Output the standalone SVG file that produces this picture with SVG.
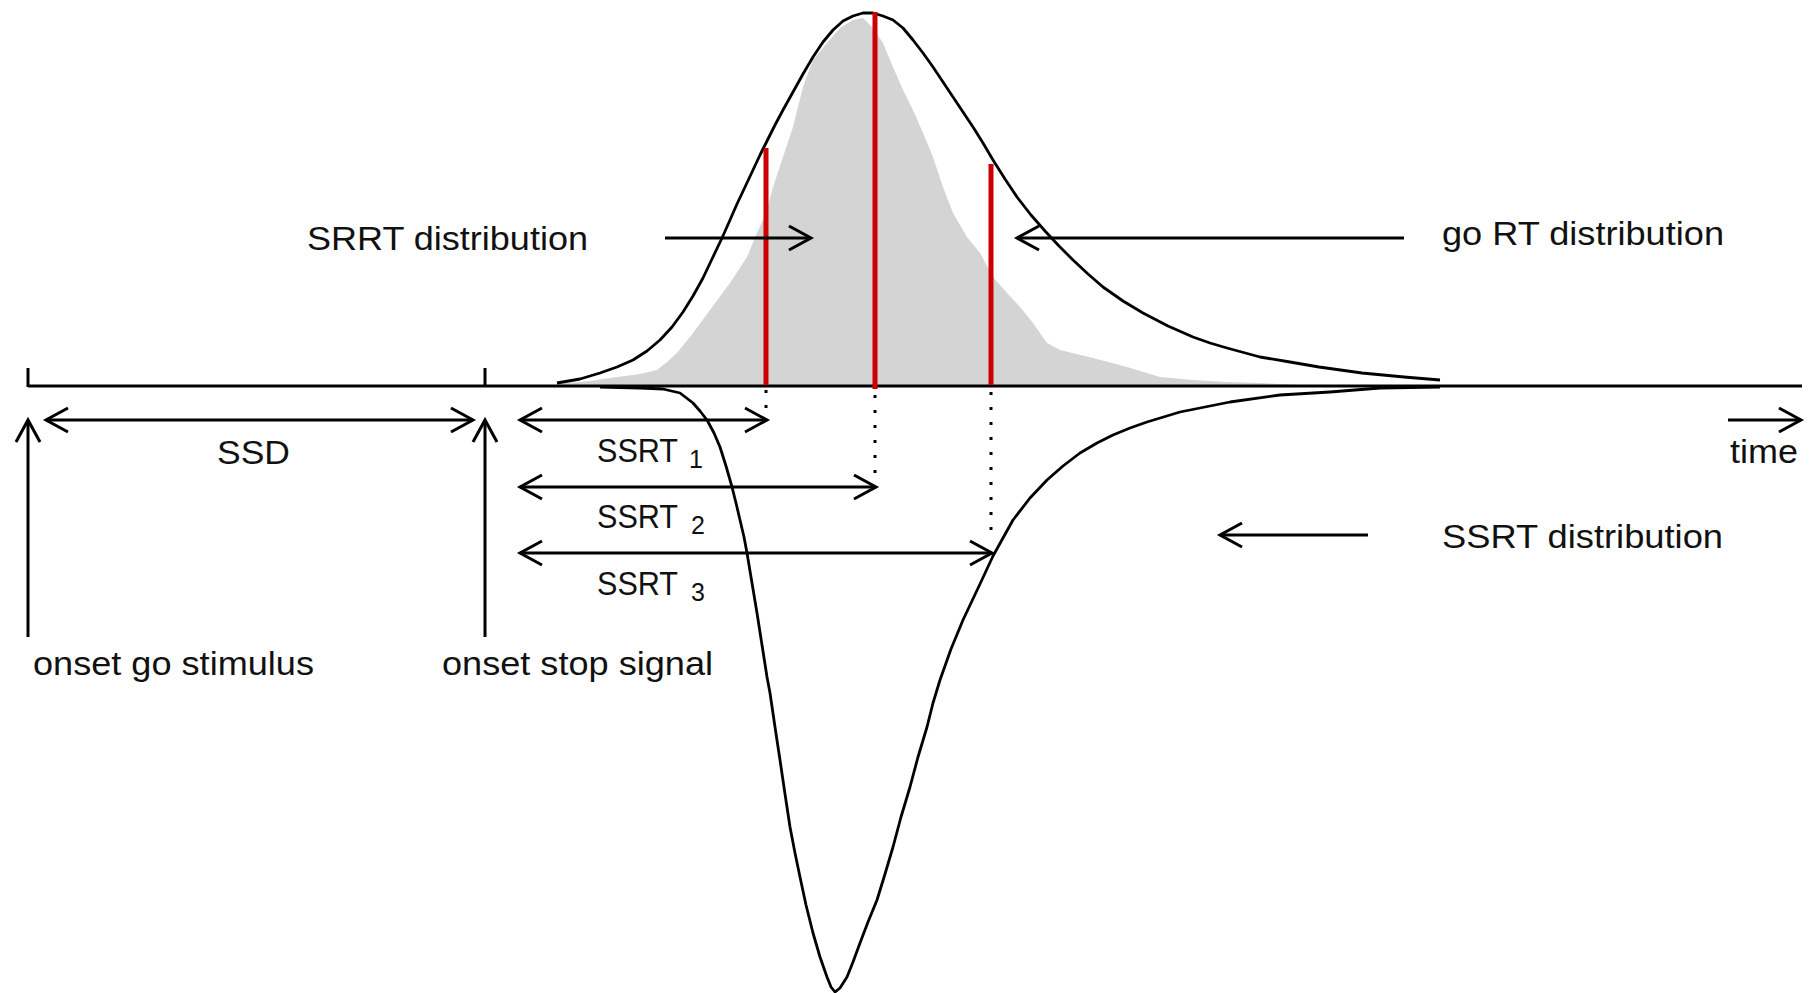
<svg xmlns="http://www.w3.org/2000/svg" width="1814" height="993" viewBox="0 0 1814 993">
<style>
text{font-family:"Liberation Sans",Arial,sans-serif;font-size:34px;fill:#111}
.sub{font-size:25px}
.ln{stroke:#000;stroke-width:3;fill:none}
.arr{stroke:#000;stroke-width:3;fill:none;marker-end:url(#ah)}
.dbl{stroke:#000;stroke-width:3;fill:none;marker-start:url(#ah);marker-end:url(#ah)}
.crv{stroke:#000;stroke-width:2.8;fill:none;stroke-linejoin:round}
.red{stroke:#cc0000;stroke-width:5}
.dot{stroke:#000;stroke-width:3;stroke-dasharray:3 12}
</style>
<defs>
<marker id="ah" viewBox="-26 -15 30 30" markerWidth="30" markerHeight="30" refX="0" refY="0" markerUnits="userSpaceOnUse" orient="auto-start-reverse">
<path d="M-22,-12 L0,0 L-22,12" fill="none" stroke="#000" stroke-width="3"/>
</marker>
</defs>
<rect width="1814" height="993" fill="#fff"/>

<g id="srrt-histogram">
<polygon fill="#d4d4d4" points="557,386 557,384 590,381 617,377 640,374 657,370 667,362 677,353 693,333 710,310 730,283 747,257 757,233 766,213 773,187 783,157 793,127 803,87 813,60 827,43 840,28 853,20 863,18 873,28 883,43 893,67 903,90 913,110 923,133 933,157 943,187 953,213 967,237 980,253 993,277 1007,293 1020,307 1033,323 1047,343 1060,350 1093,358 1127,367 1160,377 1193,380 1227,382 1260,383 1300,385 1340,386"/>
</g>

<g id="ssrt-curve">
<polyline class="crv" points="600,387 640,388 663,389 680,393 693,403 700,411 707,420 714,433 720,447 726,466 732,487 736,503 740,520 744,537 747,553 752,583 757,613 762,645 767,677 770,693 775,727 780,760 785,794 790,827 795,853 800,877 806,905 813,933 820,957 827,977 831,987 835,992 840,988 847,977 853,962 860,943 868,922 877,900 885,874 893,847 901,817 910,787 918,757 927,727 933,703 940,680 951,649 963,620 980,584 993,556 1013,520 1030,498 1047,480 1063,466 1080,453 1097,443 1113,435 1130,428 1147,422 1180,412 1230,402 1280,395 1330,392 1380,388 1440,387"/>
</g>

<g id="go-rt-curve">
<polyline class="crv" points="557,383 580,379 600,373 617,367 633,360 647,351 660,340 672,327 683,312 693,296 703,278 712,259 722,238 730,220 737,204 745,187 753,170 760,155 767,141 775,125 783,110 793,92 803,74 813,57 823,42 833,30 843,21 853,16 863,13 873,13 883,16 893,20 903,28 913,40 923,53 933,67 943,82 953,97 963,112 973,127 983,143 993,160 1005,179 1017,197 1031,215 1045,231 1059,246 1073,260 1088,274 1103,287 1123,301 1143,313 1168,326 1193,337 1210,343 1227,348 1260,357 1290,362 1319,367 1362,373 1404,377 1440,380"/>
</g>

<g id="axis">
<line class="ln" x1="28" y1="386" x2="1802" y2="386"/>
<line class="ln" x1="28" y1="368" x2="28" y2="387"/>
<line class="ln" x1="485" y1="368" x2="485" y2="387"/>
</g>

<g id="quantiles">
<line class="red" x1="766" y1="148" x2="766" y2="385"/>
<line class="red" x1="875" y1="12" x2="875" y2="389"/>
<line class="red" x1="991" y1="164" x2="991" y2="385"/>
</g>

<g id="connectors">
<line class="dot" x1="766" y1="390" x2="766" y2="410"/>
<line class="dot" x1="875" y1="395" x2="875" y2="476"/>
<line class="dot" x1="991" y1="392" x2="991" y2="541"/>
<line class="arr" x1="28" y1="637" x2="28" y2="420"/>
<line class="arr" x1="485" y1="637" x2="485" y2="420"/>
<line class="dbl" x1="46" y1="420" x2="473" y2="420"/>
<line class="dbl" x1="520" y1="420" x2="767" y2="420"/>
<line class="dbl" x1="520" y1="487" x2="876" y2="487"/>
<line class="dbl" x1="520" y1="553" x2="992" y2="553"/>
<line class="arr" x1="665" y1="238" x2="811" y2="238"/>
<line class="arr" x1="1404" y1="238" x2="1017" y2="238"/>
<line class="arr" x1="1368" y1="535" x2="1220" y2="535"/>
<line class="arr" x1="1728" y1="420" x2="1801" y2="420"/>
</g>

<g id="labels">
<text id="srrt-label" x="307" y="250" textLength="281" lengthAdjust="spacingAndGlyphs">SRRT distribution</text>
<text id="gort-label" x="1442" y="245" textLength="282" lengthAdjust="spacingAndGlyphs">go RT distribution</text>
<text id="ssd-label" x="217" y="464" textLength="73" lengthAdjust="spacingAndGlyphs">SSD</text>
<text id="time-label" x="1730" y="463" textLength="68" lengthAdjust="spacingAndGlyphs">time</text>
<text id="ssrtdist-label" x="1442" y="548" textLength="281" lengthAdjust="spacingAndGlyphs">SSRT distribution</text>
<text id="go-onset-label" x="33" y="675" textLength="281" lengthAdjust="spacingAndGlyphs">onset go stimulus</text>
<text id="stop-onset-label" x="442" y="675" textLength="271" lengthAdjust="spacingAndGlyphs">onset stop signal</text>
<text id="ssrt1-label" x="597" y="462"><tspan textLength="81" lengthAdjust="spacingAndGlyphs">SSRT</tspan><tspan class="sub" dx="11" dy="6">1</tspan></text>
<text id="ssrt2-label" x="597" y="528"><tspan textLength="81" lengthAdjust="spacingAndGlyphs">SSRT</tspan><tspan class="sub" dx="13" dy="6">2</tspan></text>
<text id="ssrt3-label" x="597" y="595"><tspan textLength="81" lengthAdjust="spacingAndGlyphs">SSRT</tspan><tspan class="sub" dx="13" dy="6">3</tspan></text>
</g>
</svg>
